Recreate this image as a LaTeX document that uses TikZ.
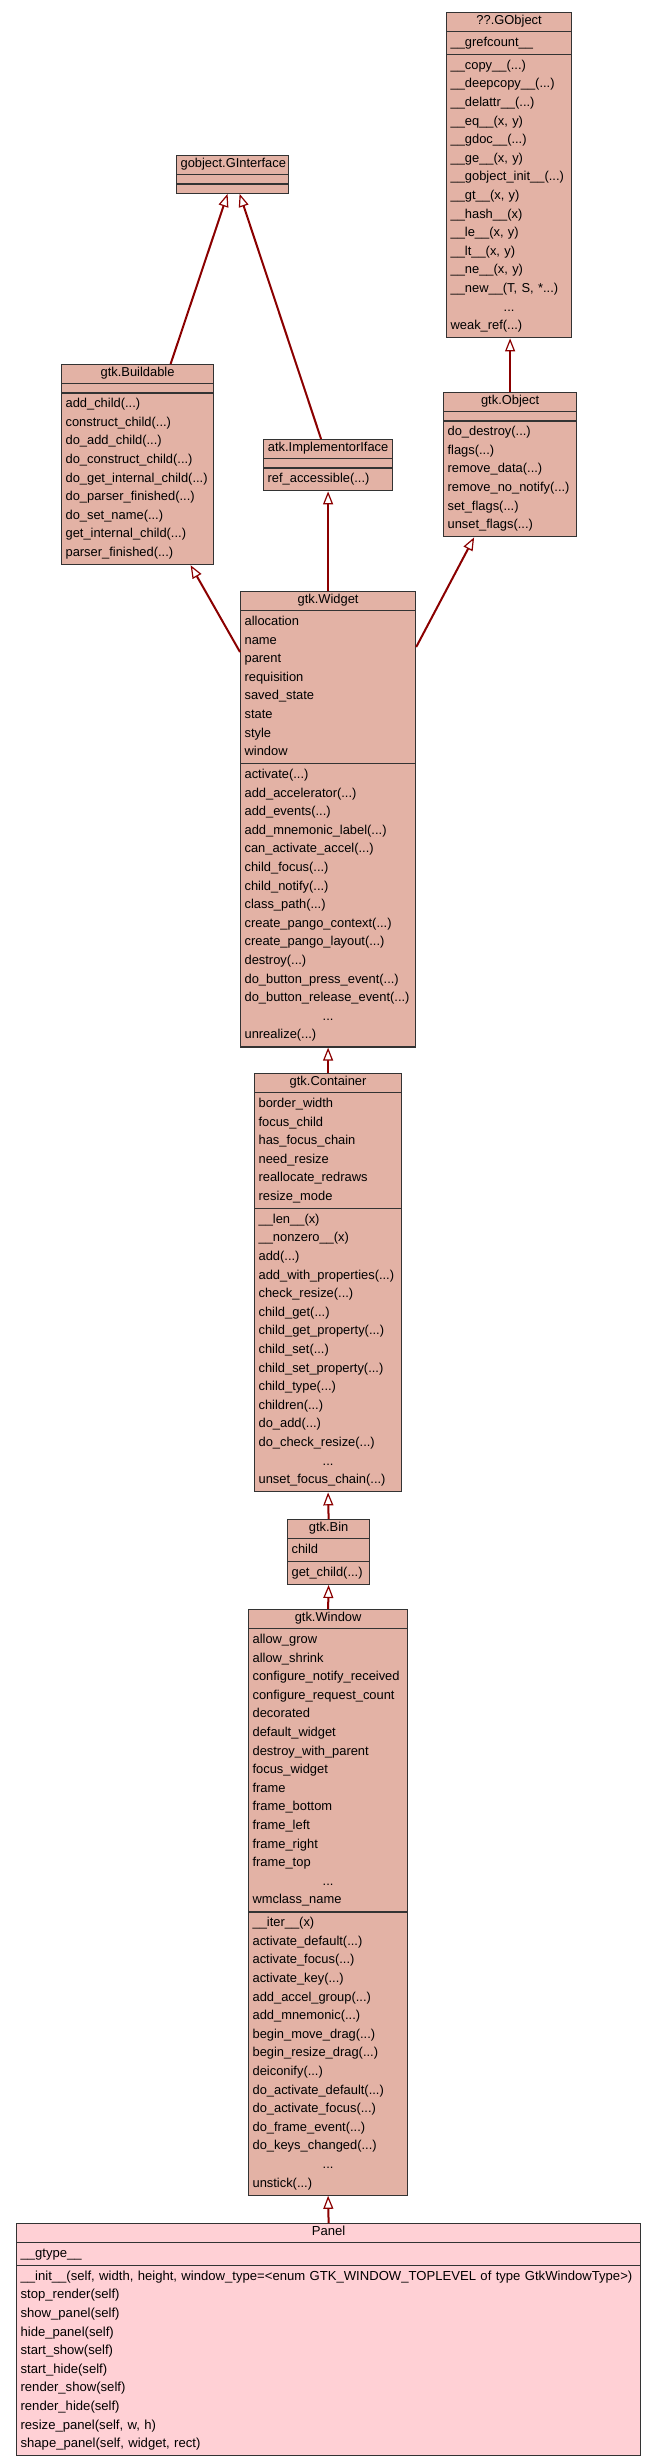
\documentclass[tikz,border=0pt]{standalone}
\usepackage{fontspec}
\setmainfont{Liberation Sans}
\usetikzlibrary{shapes.multipart}
\usetikzlibrary{arrows.meta}
\definecolor{gtkfill}{RGB}{227,178,165}
\definecolor{panelfill}{RGB}{255,208,213}
\definecolor{inhred}{RGB}{139,0,0}
\newcommand*{\rowstrut}{\rule[-6.1pt]{0pt}{18.6pt}}
\newcommand*{\headstrut}{\rule[-5pt]{0pt}{15pt}}
\newcommand*{\nostrut}{\rule{0pt}{5pt}}
\newcommand*{\rw}[1]{\rowstrut#1\par}
\newcommand*{\dotrow}{\rowstrut\hspace*{\fill}...\hspace*{\fill}\par}
\newcommand*{\head}[1]{\headstrut\hspace*{\fill}#1\hspace*{\fill}\par}

\begin{document}
\begin{tikzpicture}[x=1pt, y=-1pt,
    cls/.style={rectangle split, rectangle split parts=3, draw=black!80, line width=1.2pt,
        fill=gtkfill, inner xsep=4pt, inner ysep=1.5pt, align=left, anchor=north west,
        font=\fontsize{12.9pt}{18.6pt}\selectfont},
    inherits/.style={draw=inhred, line width=2pt,
        -{Triangle[length=13pt, width=10pt, fill=white, line width=1.2pt]}}]
    \fill [white] (0,0) rectangle (656,2461);
    \useasboundingbox (0,0) rectangle (656,2461);

    \node [cls, text width=117pt] (gobject) at (446,12) {\head{??.GObject}
        \nodepart{two}\rw{\_\_grefcount\_\_}
        \nodepart{three}\rw{\_\_copy\_\_(...)}\rw{\_\_deepcopy\_\_(...)}\rw{\_\_delattr\_\_(...)}
        \rw{\_\_eq\_\_(x, y)}\rw{\_\_gdoc\_\_(...)}\rw{\_\_ge\_\_(x, y)}\rw{\_\_gobject\_init\_\_(...)}
        \rw{\_\_gt\_\_(x, y)}\rw{\_\_hash\_\_(x)}\rw{\_\_le\_\_(x, y)}\rw{\_\_lt\_\_(x, y)}
        \rw{\_\_ne\_\_(x, y)}\rw{\_\_new\_\_(T, S, *...)}\dotrow\rw{weak\_ref(...)}};
    \node [cls, text width=104pt] (giface) at (176,155) {\head{gobject.GInterface}
        \nodepart{two}\nostrut
        \nodepart{three}\nostrut};
    \node [cls, text width=144pt] (buildable) at (61,364) {\head{gtk.Buildable}
        \nodepart{two}\nostrut
        \nodepart{three}\rw{add\_child(...)}\rw{construct\_child(...)}\rw{do\_add\_child(...)}
        \rw{do\_construct\_child(...)}\rw{do\_get\_internal\_child(...)}\rw{do\_parser\_finished(...)}
        \rw{do\_set\_name(...)}\rw{get\_internal\_child(...)}\rw{parser\_finished(...)}};
    \node [cls, text width=121pt] (implementor) at (263,439) {\head{atk.ImplementorIface}
        \nodepart{two}\nostrut
        \nodepart{three}\rw{ref\_accessible(...)}};
    \node [cls, text width=125pt] (object) at (443,392) {\head{gtk.Object}
        \nodepart{two}\nostrut
        \nodepart{three}\rw{do\_destroy(...)}\rw{flags(...)}\rw{remove\_data(...)}
        \rw{remove\_no\_notify(...)}\rw{set\_flags(...)}\rw{unset\_flags(...)}};
    \node [cls, text width=167pt] (widget) at (240,591) {\head{gtk.Widget}
        \nodepart{two}\rw{allocation}\rw{name}\rw{parent}\rw{requisition}
        \rw{saved\_state}\rw{state}\rw{style}\rw{window}
        \nodepart{three}\rw{activate(...)}\rw{add\_accelerator(...)}\rw{add\_events(...)}
        \rw{add\_mnemonic\_label(...)}\rw{can\_activate\_accel(...)}\rw{child\_focus(...)}
        \rw{child\_notify(...)}\rw{class\_path(...)}\rw{create\_pango\_context(...)}
        \rw{create\_pango\_layout(...)}\rw{destroy(...)}\rw{do\_button\_press\_event(...)}
        \rw{do\_button\_release\_event(...)}\dotrow\rw{unrealize(...)}};
    \node [cls, text width=139pt] (container) at (254,1073) {\head{gtk.Container}
        \nodepart{two}\rw{border\_width}\rw{focus\_child}\rw{has\_focus\_chain}
        \rw{need\_resize}\rw{reallocate\_redraws}\rw{resize\_mode}
        \nodepart{three}\rw{\_\_len\_\_(x)}\rw{\_\_nonzero\_\_(x)}\rw{add(...)}
        \rw{add\_with\_properties(...)}\rw{check\_resize(...)}\rw{child\_get(...)}
        \rw{child\_get\_property(...)}\rw{child\_set(...)}\rw{child\_set\_property(...)}
        \rw{child\_type(...)}\rw{children(...)}\rw{do\_add(...)}
        \rw{do\_check\_resize(...)}\dotrow\rw{unset\_focus\_chain(...)}};
    \node [cls, text width=74pt] (bin) at (287,1519) {\head{gtk.Bin}
        \nodepart{two}\rw{child}
        \nodepart{three}\rw{get\_child(...)}};
    \node [cls, text width=151pt] (window) at (248,1609) {\head{gtk.Window}
        \nodepart{two}\rw{allow\_grow}\rw{allow\_shrink}\rw{configure\_notify\_received}
        \rw{configure\_request\_count}\rw{decorated}\rw{default\_widget}
        \rw{destroy\_with\_parent}\rw{focus\_widget}\rw{frame}\rw{frame\_bottom}
        \rw{frame\_left}\rw{frame\_right}\rw{frame\_top}\dotrow\rw{wmclass\_name}
        \nodepart{three}\rw{\_\_iter\_\_(x)}\rw{activate\_default(...)}\rw{activate\_focus(...)}
        \rw{activate\_key(...)}\rw{add\_accel\_group(...)}\rw{add\_mnemonic(...)}
        \rw{begin\_move\_drag(...)}\rw{begin\_resize\_drag(...)}\rw{deiconify(...)}
        \rw{do\_activate\_default(...)}\rw{do\_activate\_focus(...)}\rw{do\_frame\_event(...)}
        \rw{do\_keys\_changed(...)}\dotrow\rw{unstick(...)}};
    \node [cls, fill=panelfill, text width=616pt, font=\fontsize{13.1pt}{18.6pt}\selectfont]
        (panel) at (16,2223) {\head{Panel}
        \nodepart{two}\rw{\_\_gtype\_\_}
        \nodepart{three}\rw{\_\_init\_\_(self, width, height, window\_type=<enum GTK\_WINDOW\_TOPLEVEL of type GtkWindowType>)}
        \rw{stop\_render(self)}\rw{show\_panel(self)}\rw{hide\_panel(self)}
        \rw{start\_show(self)}\rw{start\_hide(self)}\rw{render\_show(self)}
        \rw{render\_hide(self)}\rw{resize\_panel(self, w, h)}\rw{shape\_panel(self, widget, rect)}};

    % inheritance edges, child -> parent
    \draw [inherits] ([xshift=33pt]buildable.north) -- ([xshift=-5pt]giface.south);
    \draw [inherits] ([xshift=-7pt]implementor.north) -- ([xshift=7pt]giface.south);
    \draw [inherits] (object.north) -- (object.north |- gobject.south);
    \draw [inherits] (widget.north) -- (implementor.south);
    \draw [inherits] ([yshift=-61pt]widget.north west) -- ([xshift=53pt]buildable.south);
    \draw [inherits] ([yshift=-56pt]widget.north east) -- ([xshift=-36pt]object.south);
    \draw [inherits] (container.north) -- (widget.south);
    \draw [inherits] (bin.north) -- (container.south);
    \draw [inherits] (window.north) -- (bin.south);
    \draw [inherits] (panel.north) -- (window.south);
\end{tikzpicture}
\end{document}
